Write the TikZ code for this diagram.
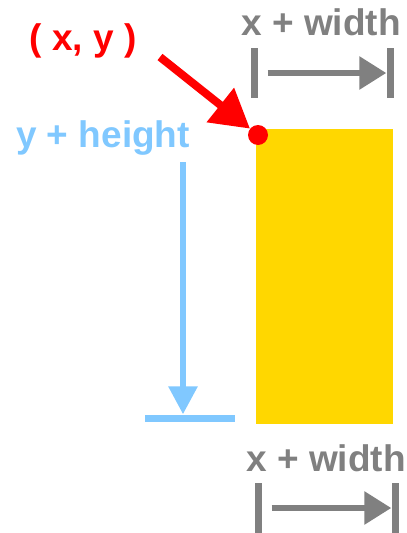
\documentclass[tikz,border=0pt]{standalone}
\usepackage{fontspec}
\setmainfont{Liberation Sans}
\usepackage{xcolor}
\usetikzlibrary{arrows.meta,positioning}

\definecolor{ptred}{RGB}{255,0,0}
\definecolor{boxgold}{RGB}{255,215,0}
\definecolor{hblue}{RGB}{128,200,255}
\definecolor{wgray}{RGB}{128,128,128}

\begin{document}
\begin{tikzpicture}[
  x=1pt,y=-1pt,
  label text/.style={inner sep=0pt,anchor=base,font=\fontsize{37}{40}\selectfont\bfseries},
  tick bar/.style={fill=wgray,inner sep=0pt,minimum width=7pt,minimum height=50pt},
  width flow/.style={-{Triangle[length=27pt,width=32pt]},draw=wgray,line width=6pt},
  height flow/.style={-{Triangle[length=28pt,width=28pt]},draw=hblue,line width=6pt},
  point flow/.style={-{Triangle[length=38pt,width=42pt]},draw=ptred,line width=8pt}
]
\useasboundingbox (0,0) rectangle (407,533);

% the rectangle and its corner point
\node[fill=boxgold,inner sep=0pt,minimum width=137pt,minimum height=295pt,anchor=north west] (box) at (256,129) {};
\node[circle,fill=ptred,inner sep=0pt,minimum size=20pt] (corner) at (258,135) {};

% ( x, y )
\node[label text,text=ptred] (xy-label) at (83,50) {( x, y )};
\coordinate (xy-tail) at (160,57);
\draw[point flow] (xy-tail) -- (corner);

% top width mark
\node[label text,text=wgray] (top-label) at (321,35) {x + width};
\node[tick bar] (top-left) at (254,73) {};
\node[tick bar] (top-right) at (390,73) {};
\draw[width flow,shorten <=10pt] (top-left.east) -- (top-right.west);

% height mark
\node[label text,text=hblue] (h-label) at (103,147) {y + height};
\node[fill=hblue,inner sep=0pt,minimum width=90pt,minimum height=7pt] (h-bar) at (190,418) {};
\coordinate (h-top) at (183,162);
\draw[height flow] (h-top) -- (h-bar.north -| h-top);

% bottom width mark
\node[label text,text=wgray] (bottom-label) at (326,471) {x + width};
\node[tick bar] (bottom-left) at (258,508) {};
\node[tick bar] (bottom-right) at (395,508) {};
\draw[width flow,shorten <=10pt] (bottom-left.east) -- (bottom-right.west);

\end{tikzpicture}
\end{document}
